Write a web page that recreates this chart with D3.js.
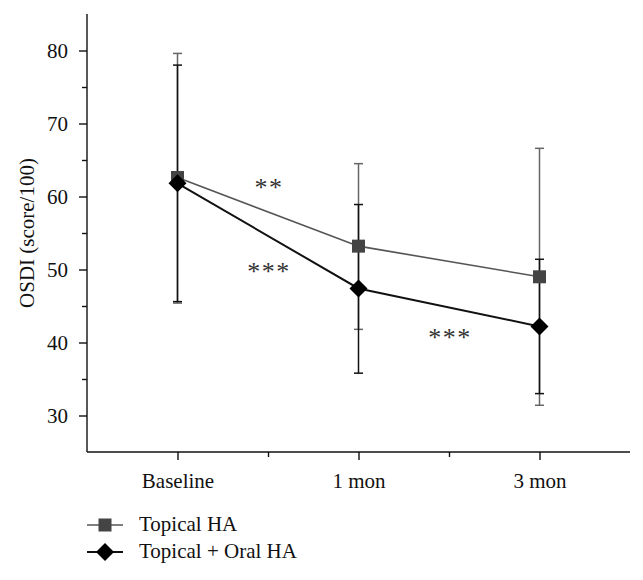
<!DOCTYPE html>
<html>
<head>
<meta charset="utf-8">
<script src="https://cdn.jsdelivr.net/npm/d3@7"></script>
<style>
  html, body { margin: 0; padding: 0; background: #fff; }
  svg { display: block; font-family: "Liberation Serif", "DejaVu Serif", serif; }
</style>
</head>
<body>
<svg id="chart" width="643" height="580"></svg>
<script>
// ---- data ----
const categories = ["Baseline", "1 mon", "3 mon"];
const topicalMean = [62.6, 53.2, 49.0];
const topicalUpper = [79.6, 64.5, 66.6];
const topicalLower = [45.4, 41.8, 31.4];
const oralMean = [61.8, 47.4, 42.2];
const oralUpper = [78.0, 58.9, 51.4];
const oralLower = [45.6, 35.8, 33.0];
const yTicks = [30, 40, 50, 60, 70, 80];
const yMinorTicks = [35, 45, 55, 65, 75];
const seriesNames = ["Topical HA", "Topical + Oral HA"];
const annotations = [
  { text: "**", pos: 0.5, value: 60.1 },
  { text: "***", pos: 0.5, value: 48.6 },
  { text: "***", pos: 1.5, value: 39.5 }
];

// ---- layout ----
const svg = d3.select("#chart");
const pLeft = 87, pRight = 630, pTop = 14, pBottom = 452;
const x = d3.scaleLinear().domain([-0.5, 2.5]).range([pLeft, pRight]);
const y = d3.scaleLinear().domain([25, 85]).range([pBottom, pTop]);
const font = "Liberation Serif, DejaVu Serif, serif";
const fs = 21;

// y axis
const yAxis = svg.append("g").attr("transform", `translate(${pLeft},0)`)
  .call(d3.axisLeft(y).tickValues(yTicks).tickSize(8).tickPadding(11).tickSizeOuter(0));
yAxis.append("g").call(d3.axisLeft(y).tickValues(yMinorTicks).tickSize(5).tickFormat(""))
  .select(".domain").remove();
yAxis.selectAll("path.domain").attr("d", `M0,${pBottom}V${pTop}`);

// x axis
const xAxis = svg.append("g").attr("transform", `translate(0,${pBottom})`)
  .call(d3.axisBottom(x).tickValues([0, 1, 2]).tickFormat((d) => categories[d])
    .tickSize(8).tickPadding(13).tickSizeOuter(0));
xAxis.append("g").call(d3.axisBottom(x).tickValues([0.5, 1.5]).tickSize(5).tickFormat(""))
  .select(".domain").remove();
xAxis.select("path.domain").attr("d", `M${pLeft},0H${pRight}`);

svg.selectAll(".tick text").attr("font-family", font).attr("font-size", fs).attr("fill", "#111");
svg.selectAll("path.domain, .tick line").attr("stroke", "#111").attr("stroke-width", 1.4);

// y title
svg.append("text")
  .attr("transform", `translate(34,${(pTop + pBottom) / 2}) rotate(-90)`)
  .attr("text-anchor", "middle")
  .attr("font-family", font).attr("font-size", fs).attr("fill", "#111")
  .text("OSDI (score/100)");

// ---- series ----
const series = [
  { mean: topicalMean, up: topicalUpper, lo: topicalLower, color: "#555", bar: "#666", lw: 1.6, marker: "square" },
  { mean: oralMean, up: oralUpper, lo: oralLower, color: "#111", bar: "#111", lw: 2, marker: "diamond" }
];
const capW = 9;

series.forEach((s) => {
  const g = svg.append("g");
  categories.forEach((c, i) => {
    g.append("line").attr("x1", x(i)).attr("x2", x(i)).attr("y1", y(s.up[i])).attr("y2", y(s.lo[i]))
      .attr("stroke", s.bar).attr("stroke-width", 1.5);
    [s.up[i], s.lo[i]].forEach((v) => {
      g.append("line").attr("x1", x(i) - capW / 2).attr("x2", x(i) + capW / 2)
        .attr("y1", y(v)).attr("y2", y(v)).attr("stroke", s.bar).attr("stroke-width", 1.5);
    });
  });
});

const line = d3.line().x((d, i) => x(i)).y((d) => y(d));
series.forEach((s) => {
  svg.append("path").datum(s.mean).attr("d", line).attr("fill", "none")
    .attr("stroke", s.color).attr("stroke-width", s.lw);
});

function drawMarker(g, type, cx, cy) {
  if (type === "square") {
    g.append("rect").attr("x", cx - 6.5).attr("y", cy - 6.5).attr("width", 13).attr("height", 13)
      .attr("fill", "#444");
  } else {
    const r = 9;
    g.append("path").attr("d", `M${cx},${cy - r}L${cx + r},${cy}L${cx},${cy + r}L${cx - r},${cy}Z`)
      .attr("fill", "#000");
  }
}
series.forEach((s) => {
  const g = svg.append("g");
  s.mean.forEach((v, i) => drawMarker(g, s.marker, x(i), y(v)));
});

// annotations
annotations.forEach((a) => {
  svg.append("text").attr("x", x(a.pos) + 1).attr("y", y(a.value))
    .attr("text-anchor", "middle").attr("font-family", font).attr("font-size", 26)
    .attr("letter-spacing", 1.5).attr("fill", "#333").text(a.text);
});

// legend
const legendY = [525, 552];
seriesNames.forEach((name, i) => {
  const s = series[i];
  const g = svg.append("g");
  g.append("line").attr("x1", 87).attr("x2", 123).attr("y1", legendY[i]).attr("y2", legendY[i])
    .attr("stroke", s.color).attr("stroke-width", s.lw);
  drawMarker(g, s.marker, 105, legendY[i]);
  g.append("text").attr("x", 139).attr("y", legendY[i] + 6)
    .attr("font-family", font).attr("font-size", fs).attr("fill", "#111").text(name);
});
</script>
</body>
</html>
